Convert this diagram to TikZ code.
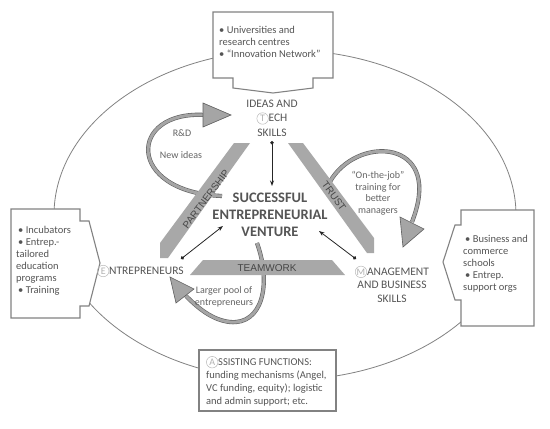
\documentclass[tikz,border=0pt]{standalone}
\usepackage{fontspec}
\setmainfont{Carlito}
\newfontfamily\arialf{Liberation Sans}
\usetikzlibrary{arrows.meta}
\definecolor{txt}{RGB}{85,85,85}
\definecolor{lbl}{RGB}{100,100,100}
\definecolor{edgec}{RGB}{130,130,130}
\definecolor{bandc}{RGB}{168,168,168}
\definecolor{bandtxt}{RGB}{70,70,70}
\definecolor{shaftc}{RGB}{165,165,165}
\definecolor{shaftedge}{RGB}{95,95,95}
\newcommand{\circl}[1]{\tikz[baseline=(cl.base)]\node[circle,draw=gray!55,line width=0.5pt,inner sep=0pt,minimum size=11.5pt,text=gray!60,font=\fontsize{10}{10}\selectfont](cl){#1};}
\tikzset{
  boxst/.style={draw=edgec,line width=1.1pt,fill=white},
  boxtxt/.style={anchor=north west,inner sep=0pt,align=left,text=txt,font=\fontsize{10.5}{12}\selectfont},
  keylbl/.style={align=center,text=txt,inner sep=0pt,font=\fontsize{11.5}{14.5}\selectfont},
  smalllbl/.style={align=center,text=lbl,inner sep=0pt,font=\fontsize{10}{11.5}\selectfont},
  bandst/.style={fill=bandc,draw=none},
  bandlbl/.style={text=bandtxt,inner sep=0pt,font=\arialf\fontsize{10}{10}\selectfont},
  shaftst/.style={draw=shaftedge,line width=0.6pt,double=shaftc,double distance=3pt},
  headst/.style={fill=shaftc,draw=shaftedge,line width=0.6pt,line join=miter},
  conn/.style={draw=black!85,line width=0.8pt,{Circle[length=3.5pt]}-{Stealth[length=5.5pt,width=4pt]}}
}
\begin{document}
\begin{tikzpicture}[x=1pt,y=-1pt]
\useasboundingbox (0,0) rectangle (550,429);
\fill[white] (0,0) rectangle (550,429);

% outer ellipse
\draw[edgec,line width=0.8pt] (285,215) ellipse [x radius=231, y radius=165];

% boxes
\draw[boxst] (213,12) -- (333,12) -- (333,78) -- (313,78) -- (313,88) -- (273,93) -- (233,88) -- (233,78) -- (213,78) -- cycle;
\node[boxtxt] (topt) at (219,26) {\textbullet\ Universities and\\research centres\\\textbullet\ “Innovation Network”};

\draw[boxst] (11,209) -- (80,209) -- (80,221) -- (89,221) -- (100,263) -- (89,306) -- (80,306) -- (80,318) -- (11,318) -- cycle;
\node[boxtxt] (leftt) at (16,226) {\hspace{2pt}\textbullet\ Incubators\\\hspace{2pt}\textbullet\ Entrep.-\\tailored\\education\\programs\\\hspace{2pt}\textbullet\ Training};

\draw[boxst] (461,210) -- (534,210) -- (534,326) -- (461,326) -- (461,300) -- (455,300) -- (443,262) -- (455,225) -- (461,225) -- cycle;
\node[boxtxt] (rightt) at (463,235) {\hspace{2pt}\textbullet\ Business and\\commerce\\schools\\\hspace{2pt}\textbullet\ Entrep.\\support orgs};

\draw[boxst] (199,350) rectangle (336,411);
\node[boxtxt,font=\fontsize{10.5}{13}\selectfont] (bott) at (206,356) {\circl{A}SSISTING FUNCTIONS:\\funding mechanisms (Angel,\\VC funding, equity); logistic\\and admin support; etc.};

% curved arrows (shafts behind bands)
\draw[shaftst] (222,196) .. controls (125,192) and (128,110) .. (205,115);
\draw[shaftst] (326,190) .. controls (345,140) and (425,135) .. (419,195) .. controls (418,205) and (415,214) .. (412,222);
\draw[shaftst] (257,243) .. controls (272,285) and (262,325) .. (230,322) .. controls (212,320) and (198,308) .. (186,296);

% bands
\fill[bandst] (234,143) -- (250,143) -- (168,258) -- (160,258) -- (160,243) -- cycle;
\fill[bandst] (288,143) -- (303,143) -- (374,238) -- (374,253) -- (367,253) -- cycle;
\fill[bandst] (203,260) -- (332,260) -- (345,275) -- (190,275) -- cycle;
\node[bandlbl,rotate=53] (partn) at (206,199) {PARTNERSHIP};
\node[bandlbl,rotate=-54] (trust) at (334,196) {TRUST};
\node[bandlbl] (teamw) at (267,268) {TEAMWORK};

% arrow heads
\draw[headst] (203,103) -- (231,115) -- (203,127) -- cycle;
\draw[headst] (400,217) -- (424,229) -- (403,247) -- cycle;
\draw[headst] (194,289) -- (170,277) -- (176,303) -- cycle;

% arrow labels
\node[smalllbl] (rd) at (182,133) {R\&D};
\node[smalllbl] (newid) at (181,155) {New ideas};
\node[smalllbl] (pool) at (224,297) {Larger pool of\\entrepreneurs};
\node[smalllbl] (otj) at (378,193) {“On-the-job”\\training for\\better\\managers};

% key labels
\node[keylbl] (ideas) at (272,118) {IDEAS AND\\\circl{T}ECH\\SKILLS};
\node[keylbl,font=\bfseries\fontsize{14.5}{17}\selectfont] (vent) at (270,215) {SUCCESSFUL\\ENTREPRENEURIAL\\VENTURE};
\node[keylbl,anchor=west] (entr) at (97,271) {\circl{E}NTREPRENEURS};
\node[keylbl,font=\fontsize{11.5}{13.5}\selectfont] (manag) at (392,284) {\circl{M}ANAGEMENT\\AND BUSINESS\\SKILLS};

% connectors
\coordinate (ideasDot) at (272,141);
\coordinate (ventTop) at (272,186);
\coordinate (entDot) at (181,259);
\coordinate (ventL) at (223,226);
\coordinate (manDot) at (356,259);
\coordinate (ventR) at (319,231);
\draw[conn] (ideasDot) -- (ventTop);
\draw[conn] (entDot) -- (ventL);
\draw[conn] (manDot) -- (ventR);
\end{tikzpicture}
\end{document}
